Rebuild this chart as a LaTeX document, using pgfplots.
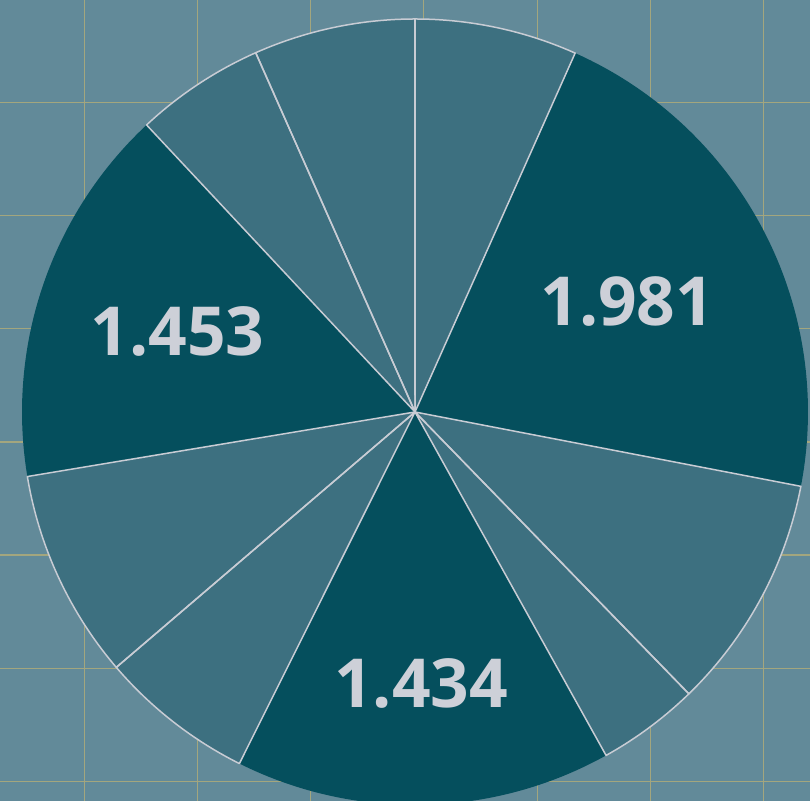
\documentclass[border=0pt]{standalone}
\usepackage{pgfplots}
\pgfplotsset{compat=1.18}
\usepackage{pgfplotstable}
\usepackage{fontspec}
\newfontfamily\labelfont{Open Sans}
\newcommand\lblfont{\labelfont\bfseries\fontsize{33.8bp}{40bp}\selectfont}
\definecolor{bgcol}{HTML}{628A99}
\definecolor{gridcol}{HTML}{A3A67E}
\definecolor{lightslice}{HTML}{3D7080}
\definecolor{darkslice}{HTML}{054F5D}
\definecolor{bordercol}{HTML}{C8CCD4}
\definecolor{labelcol}{HTML}{CDD0D8}

\pgfplotstableread{
value dark lr
0.620 0 0
1.981 1 0.609
0.900 0 0
0.389 0 0
1.434 1 0.690
0.591 0 0
0.801 0 0
1.453 1 0.638
0.494 0 0
0.616 0 0
}\piedata

\begin{document}%
\def\total{0}%
\pgfplotstableforeachcolumnelement{value}\of\piedata\as\cell{\pgfmathsetmacro\tmp{\total+\cell}\global\let\total\tmp}%
\begin{tikzpicture}
\begin{axis}[
  width=405bp, height=400.5bp, scale only axis,
  xmin=-1.0560, xmax=1.0051, ymin=-0.9898, ymax=1.0483,
  axis background/.style={fill=bgcol},
  axis line style={draw=none},
  xtick={-0.8415,-0.5534,-0.2654,0.0226,0.3107,0.5987,0.8868},
  ytick={0.7880,0.5,0.2120,-0.0761,-0.3641,-0.6522,-0.9402},
  xticklabels={}, yticklabels={},
  tick label style={inner sep=0pt, font=\tiny},
  major tick length=0,
  grid=major, grid style={gridcol, line width=0.6bp},
  clip=true,
]
\coordinate (bbsw) at (rel axis cs:0,0);
\coordinate (bbne) at (rel axis cs:1,1);
% fills
\def\astart{90}
\pgfplotsforeachungrouped \i in {0,...,9}{%
  \pgfplotstablegetelem{\i}{value}\of\piedata \let\val\pgfplotsretval
  \pgfplotstablegetelem{\i}{dark}\of\piedata \let\isdark\pgfplotsretval
  \pgfmathsetmacro\aend{\astart-\val/\total*360}%
  \ifnum\isdark=1 \def\col{darkslice}\else\def\col{lightslice}\fi
  \edef\cmd{\noexpand\addplot[fill=\col, draw=none, domain=\aend:\astart, samples=90, variable=\noexpand\t] ({cos(t)},{sin(t)}) -- (0,0) -- cycle;}%
  \cmd
  \global\let\astart\aend
}
% borders of light slices and labels of dark slices
\def\astart{90}
\pgfplotsforeachungrouped \i in {0,...,9}{%
  \pgfplotstablegetelem{\i}{value}\of\piedata \let\val\pgfplotsretval
  \pgfplotstablegetelem{\i}{dark}\of\piedata \let\isdark\pgfplotsretval
  \pgfplotstablegetelem{\i}{lr}\of\piedata \let\lr\pgfplotsretval
  \pgfmathsetmacro\aend{\astart-\val/\total*360}%
  \ifnum\isdark=1
    \pgfmathsetmacro\amid{(\astart+\aend)/2}%
    \pgfmathsetmacro\lx{\lr*cos(\amid)}%
    \pgfmathsetmacro\ly{\lr*sin(\amid)}%
    \edef\cmd{\noexpand\node[text=labelcol, inner sep=0pt, anchor=center, font=\noexpand\lblfont] at (axis cs:\lx,\ly) {\val};}%
  \else
    \edef\cmd{\noexpand\addplot[fill=none, draw=bordercol, line width=0.75bp, line join=round, domain=\aend:\astart, samples=90, variable=\noexpand\t] ({cos(t)},{sin(t)}) -- (0,0) -- cycle;}%
  \fi
  \cmd
  \global\let\astart\aend
}
\end{axis}
\pgfresetboundingbox
\useasboundingbox (bbsw) rectangle (bbne);
\end{tikzpicture}%
\end{document}
